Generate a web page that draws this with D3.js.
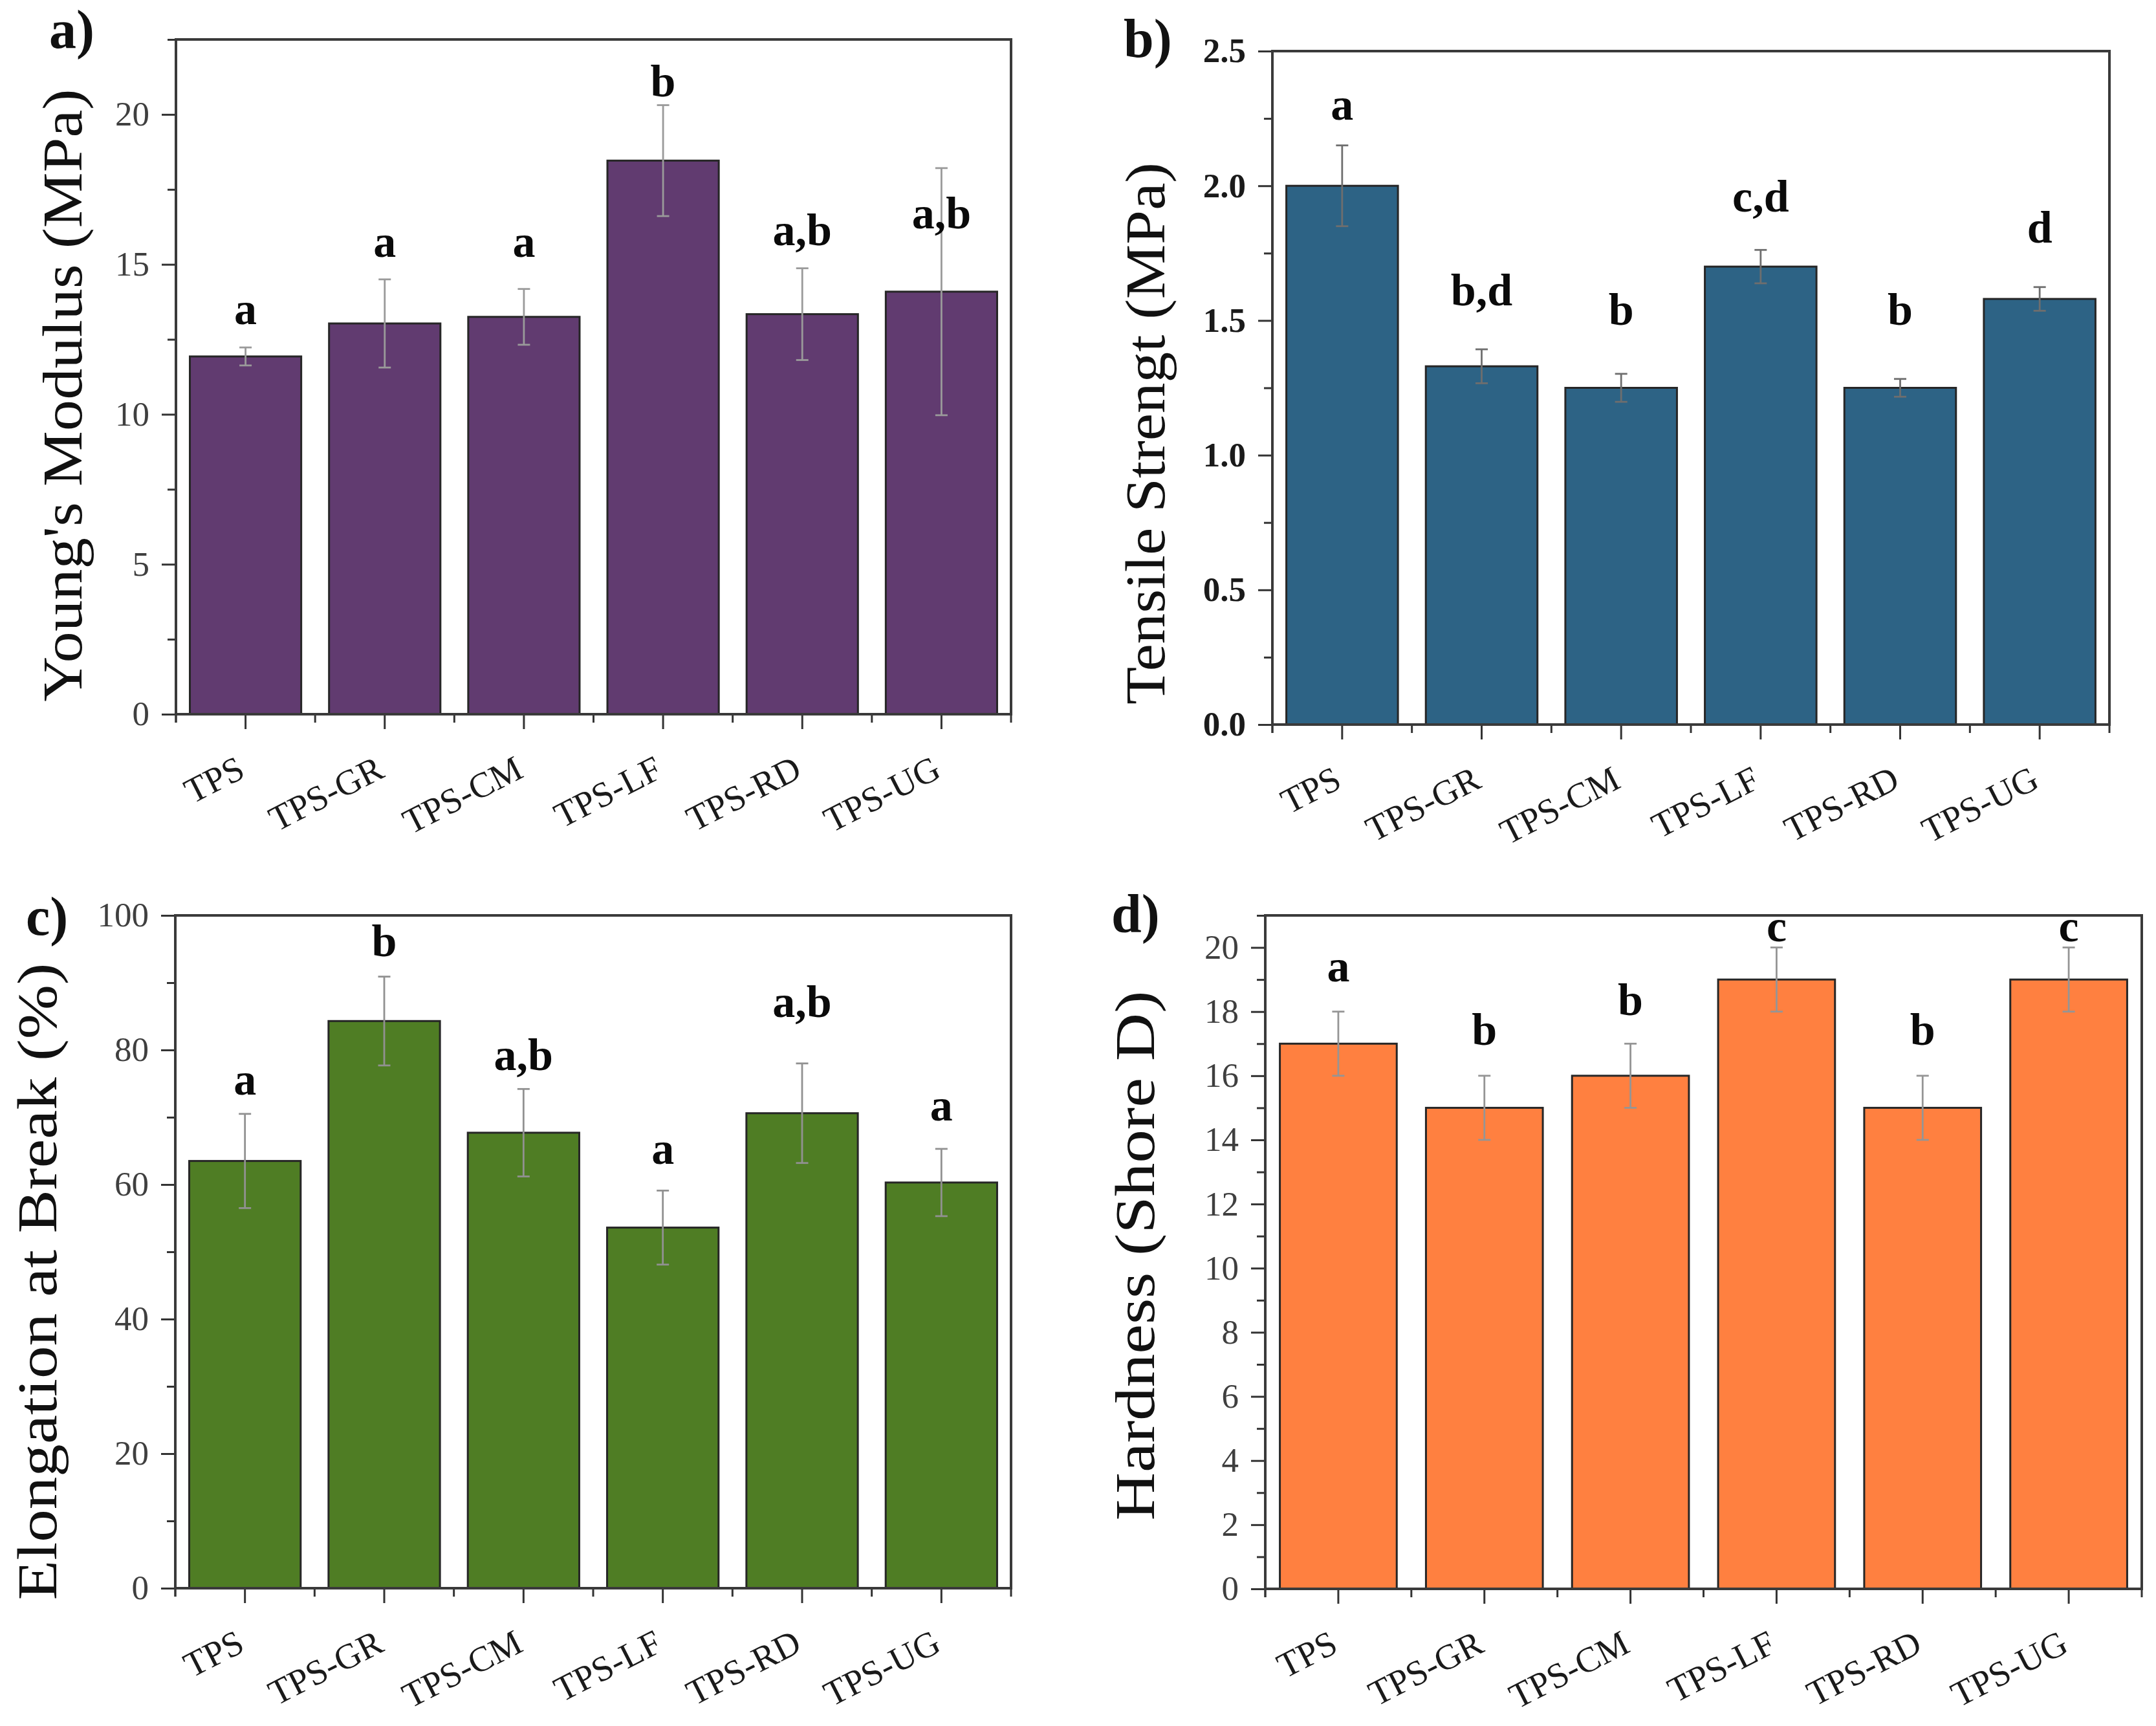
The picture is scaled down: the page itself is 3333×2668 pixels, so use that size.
<!DOCTYPE html>
<html><head><meta charset="utf-8">
<script src="https://cdn.jsdelivr.net/npm/d3@7/dist/d3.min.js"></script>
<style>html,body{margin:0;padding:0;background:#fff;}</style>
</head><body>
<script>
const categories = ["TPS","TPS-GR","TPS-CM","TPS-LF","TPS-RD","TPS-UG"];

const modulusValues  = [11.93, 13.03, 13.25, 18.46, 13.34, 14.09];
const modulusErrors  = [0.30, 1.47, 0.93, 1.85, 1.53, 4.12];
const modulusLetters = ["a","a","a","b","a,b","a,b"];
const modulusLetterAt = [13.0, 15.25, 15.25, 20.6, 15.65, 16.2];
const modulusTicks = [0,5,10,15,20];

const tensileValues  = [2.00, 1.33, 1.25, 1.70, 1.25, 1.58];
const tensileErrors  = [0.150, 0.063, 0.052, 0.062, 0.033, 0.044];
const tensileLetters = ["a","b,d","b","c,d","b","d"];
const tensileLetterAt = [2.245, 1.555, 1.485, 1.905, 1.485, 1.79];
const tensileTicks = [0,0.5,1.0,1.5,2.0,2.5];

const elongValues  = [63.5, 84.3, 67.7, 53.6, 70.6, 60.3];
const elongErrors  = [7.0, 6.6, 6.5, 5.5, 7.4, 5.0];
const elongLetters = ["a","b","a,b","a","a,b","a"];
const elongLetterAt = [73.4, 93.9, 77.0, 63.1, 84.9, 69.5];
const elongTicks = [0,20,40,60,80,100];

const hardValues  = [17, 15, 16, 19, 15, 19];
const hardErrors  = [1, 1, 1, 1, 1, 1];
const hardLetters = ["a","b","b","c","b","c"];
const hardLetterAt = [18.95, 16.97, 17.9, 20.2, 16.97, 20.2];
const hardTicks = [0,2,4,6,8,10,12,14,16,18,20];

const W = 3333, H = 2668;
const svg = d3.select("body").append("svg").attr("width", W).attr("height", H)
  .style("font-family", "'Liberation Serif', 'DejaVu Serif', serif");
svg.append("rect").attr("width", W).attr("height", H).attr("fill", "#fff");

const panels = [
  {tag:"a)", tagX:76, tagY:74, values:modulusValues, errors:modulusErrors, letters:modulusLetters, letterAt:modulusLetterAt,
   ticks:modulusTicks, minorStep:2.5, ymax:22.5, fmt:d3.format("d"), tickBold:false,
   left:272, right:1563, top:61, bottom:1104, color:"#613B70", errColor:"#9a9a9a",
   ylabel:"Young's Modulus (MPa)", ylx:126, yly:611, ylLen:947},
  {tag:"b)", tagX:1737, tagY:88, values:tensileValues, errors:tensileErrors, letters:tensileLetters, letterAt:tensileLetterAt,
   ticks:tensileTicks, minorStep:0.25, ymax:2.5, fmt:d3.format(".1f"), tickBold:true,
   left:1967, right:3261, top:79, bottom:1120, color:"#2D6385", errColor:"#6e6e6e",
   ylabel:"Tensile Strengt (MPa)", ylx:1800, yly:670, ylLen:838},
  {tag:"c)", tagX:40, tagY:1445, values:elongValues, errors:elongErrors, letters:elongLetters, letterAt:elongLetterAt,
   ticks:elongTicks, minorStep:10, ymax:100, fmt:d3.format("d"), tickBold:false,
   left:271, right:1563, top:1415, bottom:2455, color:"#4F7D24", errColor:"#919191",
   ylabel:"Elongation at Break (%)", ylx:87, yly:1981, ylLen:985},
  {tag:"d)", tagX:1718, tagY:1441, values:hardValues, errors:hardErrors, letters:hardLetters, letterAt:hardLetterAt,
   ticks:hardTicks, minorStep:1, ymax:21, fmt:d3.format("d"), tickBold:false,
   left:1956, right:3311, top:1415, bottom:2456, color:"#FF8040", errColor:"#959595",
   ylabel:"Hardness (Shore D)", ylx:1784, yly:1941, ylLen:819}
];

panels.forEach(p => {
  const g = svg.append("g");
  const x = d3.scaleBand().domain(categories).range([p.left, p.right]).paddingInner(0.2).paddingOuter(0.1);
  const y = d3.scaleLinear().domain([0, p.ymax]).range([p.bottom, p.top]);
  const cx = c => x(c) + x.bandwidth() / 2;
  const data = categories.map((c,i) => ({c, v:p.values[i], e:p.errors[i], l:p.letters[i], la:p.letterAt[i]}));

  // bars
  g.selectAll("rect.bar").data(data).join("rect").attr("class","bar")
    .attr("x", d => x(d.c)).attr("y", d => y(d.v))
    .attr("width", x.bandwidth()).attr("height", d => y(0) - y(d.v))
    .attr("fill", p.color).attr("stroke", "#262626").attr("stroke-width", 3);

  // error bars
  const cap = 9.5;
  const eg = g.selectAll("g.err").data(data).join("g").attr("class","err")
    .attr("stroke", p.errColor).attr("stroke-width", 2.8);
  eg.append("line").attr("x1", d => cx(d.c)).attr("x2", d => cx(d.c))
    .attr("y1", d => y(d.v - d.e)).attr("y2", d => y(d.v + d.e));
  eg.append("line").attr("x1", d => cx(d.c)-cap).attr("x2", d => cx(d.c)+cap)
    .attr("y1", d => y(d.v + d.e)).attr("y2", d => y(d.v + d.e));
  eg.append("line").attr("x1", d => cx(d.c)-cap).attr("x2", d => cx(d.c)+cap)
    .attr("y1", d => y(d.v - d.e)).attr("y2", d => y(d.v - d.e));

  // letters
  g.selectAll("text.letter").data(data).join("text").attr("class","letter")
    .attr("x", d => cx(d.c)).attr("y", d => y(d.la))
    .attr("text-anchor","middle").attr("font-size", 70).attr("font-weight","bold").attr("fill","#0a0a0a")
    .text(d => d.l);

  // y axis major
  const yAx = g.append("g").attr("transform", `translate(${p.left},0)`)
    .call(d3.axisLeft(y).tickValues(p.ticks).tickFormat(p.fmt).tickSize(22).tickPadding(19));
  yAx.select(".domain").remove();
  yAx.selectAll("line").attr("stroke","#333").attr("stroke-width",3);
  yAx.selectAll("text").attr("font-size", 53).attr("font-family","'Liberation Serif', serif")
    .attr("fill", p.tickBold ? "#1a1a1a" : "#3f3f3f").attr("font-weight", p.tickBold ? "bold" : "normal");
  // y minor
  const minors = d3.range(0, p.ymax + 1e-9, p.minorStep).filter(v => !p.ticks.some(t => Math.abs(t - v) < 1e-9));
  const yMin = g.append("g").attr("transform", `translate(${p.left},0)`)
    .call(d3.axisLeft(y).tickValues(minors).tickFormat("").tickSize(13));
  yMin.select(".domain").remove();
  yMin.selectAll("line").attr("stroke","#333").attr("stroke-width",3);

  // x axis major at category centres
  const xAx = g.append("g").attr("transform", `translate(0,${p.bottom})`)
    .call(d3.axisBottom(x).tickSize(23).tickFormat(""));
  xAx.select(".domain").remove();
  xAx.selectAll("line").attr("stroke","#333").attr("stroke-width",3);
  // x minor at category boundaries
  const bounds = categories.map(c => x(c) - x.step() * x.paddingInner() / 2)
    .concat([p.left, p.right]);
  g.selectAll("line.xminor").data(bounds).join("line").attr("class","xminor")
    .attr("x1", d => d).attr("x2", d => d).attr("y1", p.bottom).attr("y2", p.bottom + 13)
    .attr("stroke","#333").attr("stroke-width",3);

  g.selectAll("text.xl").data(categories).join("text").attr("class","xl")
    .attr("transform", c => `translate(${cx(c) + 2},${p.bottom + 96}) rotate(-27)`)
    .attr("text-anchor","end").attr("font-size", 55).attr("fill","#1a1a1a")
    .text(c => c);

  // frame
  g.append("rect").attr("x", p.left).attr("y", p.top)
    .attr("width", p.right - p.left).attr("height", p.bottom - p.top)
    .attr("fill","none").attr("stroke","#3a3a3a").attr("stroke-width",4);

  // y label
  g.append("text").attr("transform", `translate(${p.ylx},${p.yly}) rotate(-90)`)
    .attr("text-anchor","middle")
    .attr("font-size", 86).attr("fill","#111")
    .attr("textLength", p.ylLen).attr("lengthAdjust","spacingAndGlyphs")
    .text(p.ylabel);

  // panel tag
  g.append("text").attr("x", p.tagX).attr("y", p.tagY)
    .attr("font-size", 84).attr("font-weight", "bold").attr("fill","#111")
    .text(p.tag);
});
</script>
</body></html>
